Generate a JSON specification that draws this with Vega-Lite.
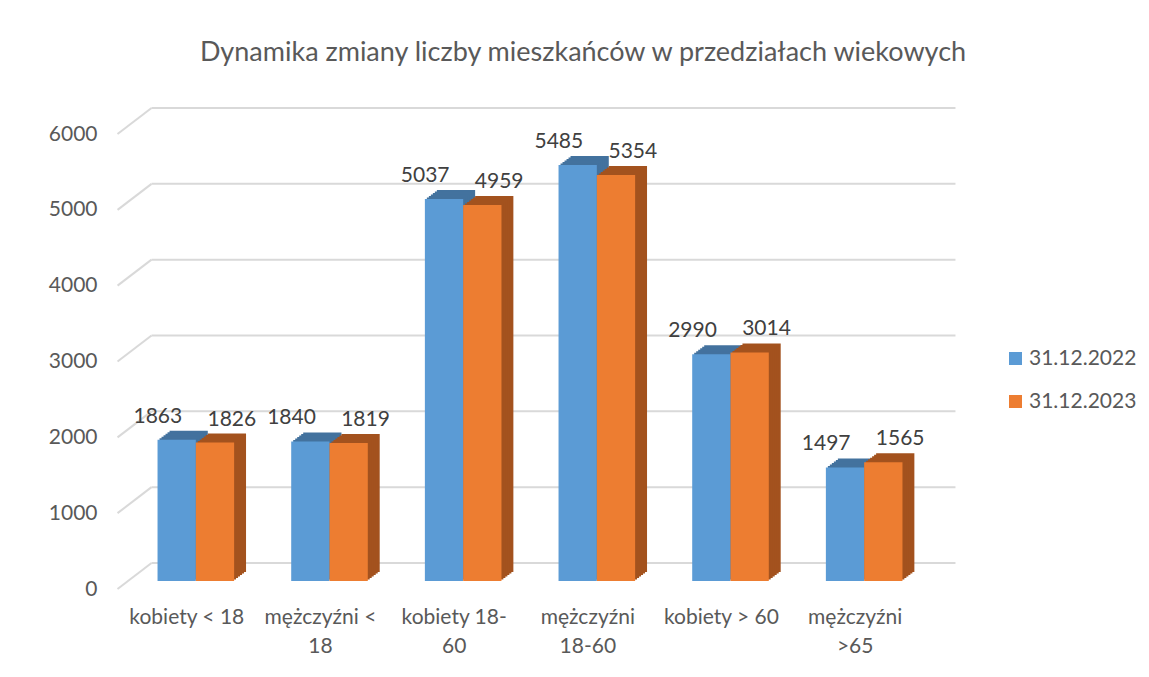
{
  "$schema": "https://vega.github.io/schema/vega-lite/v6.json",
  "width": 802,
  "height": 455,
  "autosize": {"type": "none"},
  "padding": {"left": 129, "top": 126, "right": 218, "bottom": 96},
  "background": "white",
  "title": {
    "text": "Dynamika zmiany liczby mieszkańców w przedziałach wiekowych",
    "font": "Lato",
    "fontSize": 27,
    "fontWeight": "normal",
    "color": "#595959",
    "anchor": "middle",
    "frame": "group",
    "dx": 53,
    "offset": 40
  },
  "datasets": {
    "bars": [
      {"grupa": "kobiety < 18", "seria": "31.12.2022", "wartosc": 1863},
      {"grupa": "kobiety < 18", "seria": "31.12.2023", "wartosc": 1826},
      {"grupa": "mężczyźni < 18", "seria": "31.12.2022", "wartosc": 1840},
      {"grupa": "mężczyźni < 18", "seria": "31.12.2023", "wartosc": 1819},
      {"grupa": "kobiety 18-60", "seria": "31.12.2022", "wartosc": 5037},
      {"grupa": "kobiety 18-60", "seria": "31.12.2023", "wartosc": 4959},
      {"grupa": "mężczyźni 18-60", "seria": "31.12.2022", "wartosc": 5485},
      {"grupa": "mężczyźni 18-60", "seria": "31.12.2023", "wartosc": 5354},
      {"grupa": "kobiety > 60", "seria": "31.12.2022", "wartosc": 2990},
      {"grupa": "kobiety > 60", "seria": "31.12.2023", "wartosc": 3014},
      {"grupa": "mężczyźni >65", "seria": "31.12.2022", "wartosc": 1497},
      {"grupa": "mężczyźni >65", "seria": "31.12.2023", "wartosc": 1565}
    ],
    "ticks": [
      {"v": 0}, {"v": 1000}, {"v": 2000}, {"v": 3000}, {"v": 4000}, {"v": 5000}, {"v": 6000}
    ]
  },
  "layer": [
    {
      "data": {"name": "ticks"},
      "mark": {"type": "rule", "color": "#D9D9D9", "strokeWidth": 2, "xOffset": -6, "x2Offset": 53, "yOffset": -18, "y2Offset": -18},
      "encoding": {
        "x": {"datum": "kobiety < 18", "bandPosition": 0},
        "x2": {"datum": "mężczyźni >65", "bandPosition": 1},
        "y": {
          "field": "v", "type": "quantitative",
          "scale": {"domain": [0, 6000], "nice": false, "zero": true},
          "axis": {
            "title": null, "domain": false, "ticks": false, "grid": false,
            "values": [0, 1000, 2000, 3000, 4000, 5000, 6000], "format": "d",
            "labelFont": "Lato", "labelFontSize": 21, "labelColor": "#595959",
            "labelPadding": 32, "labelOffset": 8
          }
        },
        "y2": {"field": "v"}
      }
    },
    {
      "data": {"name": "ticks"},
      "mark": {"type": "rule", "color": "#D9D9D9", "strokeWidth": 2, "xOffset": -40, "x2Offset": -6, "yOffset": 8, "y2Offset": -18},
      "encoding": {
        "x": {"datum": "kobiety < 18", "bandPosition": 0},
        "x2": {"datum": "kobiety < 18", "bandPosition": 0},
        "y": {"field": "v", "type": "quantitative"},
        "y2": {"field": "v"}
      }
    },
    {
      "data": {"name": "bars"},
      "mark": {"type": "bar", "yOffset": -9, "y2Offset": -9},
      "encoding": {
        "x": {"field": "grupa", "type": "nominal"},
        "xOffset": {"field": "seria", "type": "nominal", "scale": {"range": [12, 88.5], "paddingInner": 0, "paddingOuter": 0}},
        "y": {"field": "wartosc", "type": "quantitative"},
        "color": {"field": "seria", "type": "nominal", "scale": {"range": ["#43729E", "#A3521E"]}, "legend": null}
      }
    },
    {
      "data": {"name": "bars"},
      "mark": {"type": "bar", "yOffset": -7.5, "y2Offset": -7.5},
      "encoding": {
        "x": {"field": "grupa", "type": "nominal"},
        "xOffset": {"field": "seria", "type": "nominal", "scale": {"range": [10, 86.5], "paddingInner": 0, "paddingOuter": 0}},
        "y": {"field": "wartosc", "type": "quantitative"},
        "color": {"field": "seria", "type": "nominal", "scale": {"range": ["#43729E", "#A3521E"]}, "legend": null}
      }
    },
    {
      "data": {"name": "bars"},
      "mark": {"type": "bar", "yOffset": -6, "y2Offset": -6},
      "encoding": {
        "x": {"field": "grupa", "type": "nominal"},
        "xOffset": {"field": "seria", "type": "nominal", "scale": {"range": [8, 84.5], "paddingInner": 0, "paddingOuter": 0}},
        "y": {"field": "wartosc", "type": "quantitative"},
        "color": {"field": "seria", "type": "nominal", "scale": {"range": ["#43729E", "#A3521E"]}, "legend": null}
      }
    },
    {
      "data": {"name": "bars"},
      "mark": {"type": "bar", "yOffset": -4.5, "y2Offset": -4.5},
      "encoding": {
        "x": {"field": "grupa", "type": "nominal"},
        "xOffset": {"field": "seria", "type": "nominal", "scale": {"range": [6, 82.5], "paddingInner": 0, "paddingOuter": 0}},
        "y": {"field": "wartosc", "type": "quantitative"},
        "color": {"field": "seria", "type": "nominal", "scale": {"range": ["#43729E", "#A3521E"]}, "legend": null}
      }
    },
    {
      "data": {"name": "bars"},
      "mark": {"type": "bar", "yOffset": -3, "y2Offset": -3},
      "encoding": {
        "x": {"field": "grupa", "type": "nominal"},
        "xOffset": {"field": "seria", "type": "nominal", "scale": {"range": [4, 80.5], "paddingInner": 0, "paddingOuter": 0}},
        "y": {"field": "wartosc", "type": "quantitative"},
        "color": {"field": "seria", "type": "nominal", "scale": {"range": ["#43729E", "#A3521E"]}, "legend": null}
      }
    },
    {
      "data": {"name": "bars"},
      "mark": {"type": "bar", "yOffset": -1.5, "y2Offset": -1.5},
      "encoding": {
        "x": {"field": "grupa", "type": "nominal"},
        "xOffset": {"field": "seria", "type": "nominal", "scale": {"range": [2, 78.5], "paddingInner": 0, "paddingOuter": 0}},
        "y": {"field": "wartosc", "type": "quantitative"},
        "color": {"field": "seria", "type": "nominal", "scale": {"range": ["#43729E", "#A3521E"]}, "legend": null}
      }
    },
    {
      "data": {"name": "bars"},
      "mark": {"type": "bar"},
      "encoding": {
        "x": {
          "field": "grupa", "type": "nominal",
          "scale": {
            "domain": ["kobiety < 18", "mężczyźni < 18", "kobiety 18-60", "mężczyźni 18-60", "kobiety > 60", "mężczyźni >65"],
            "paddingInner": 0.427, "paddingOuter": 0.2135
          },
          "axis": {
            "title": null, "domain": false, "ticks": false, "grid": false, "labelAngle": 0,
            "labelAlign": "center",
            "labelFont": "Lato", "labelFontSize": 21, "labelColor": "#595959",
            "labelPadding": 25, "labelOffset": -9, "labelLineHeight": 29, "labelBaseline": "top",
            "labelExpr": "datum.label == 'kobiety 18-60' ? ['kobiety 18-', '60'] : (indexof(datum.label, 'mężczyźni') == 0 ? [substring(datum.label, 0, lastindexof(datum.label, ' ')), substring(datum.label, lastindexof(datum.label, ' ') + 1)] : datum.label)"
          }
        },
        "xOffset": {"field": "seria", "type": "nominal", "scale": {"paddingInner": 0, "paddingOuter": 0}},
        "y": {"field": "wartosc", "type": "quantitative"},
        "color": {
          "field": "seria", "type": "nominal",
          "scale": {"range": ["#5B9BD5", "#ED7D31"]},
          "legend": {
            "title": null, "orient": "none", "legendX": 876, "legendY": 222,
            "symbolType": "square", "symbolSize": 169, "symbolStrokeWidth": 0,
            "labelFont": "Lato", "labelFontSize": 21, "labelColor": "#595959",
            "labelOffset": 3, "rowPadding": 21
          }
        }
      }
    },
    {
      "data": {"name": "bars"},
      "transform": [{"filter": "datum.seria == '31.12.2022'"}],
      "mark": {"type": "text", "font": "Lato", "fontSize": 21, "color": "#404040", "baseline": "alphabetic", "dx": -38, "dy": -17},
      "encoding": {
        "x": {"field": "grupa", "type": "nominal"},
        "y": {"field": "wartosc", "type": "quantitative"},
        "text": {"field": "wartosc", "type": "quantitative", "format": "d"}
      }
    },
    {
      "data": {"name": "bars"},
      "transform": [{"filter": "datum.seria == '31.12.2023'"}],
      "mark": {"type": "text", "font": "Lato", "fontSize": 21, "color": "#404040", "baseline": "alphabetic", "dx": 36, "dy": -17},
      "encoding": {
        "x": {"field": "grupa", "type": "nominal"},
        "y": {"field": "wartosc", "type": "quantitative"},
        "text": {"field": "wartosc", "type": "quantitative", "format": "d"}
      }
    }
  ],
  "resolve": {"scale": {"color": "independent", "xOffset": "independent"}},
  "config": {"view": {"stroke": null}}
}
